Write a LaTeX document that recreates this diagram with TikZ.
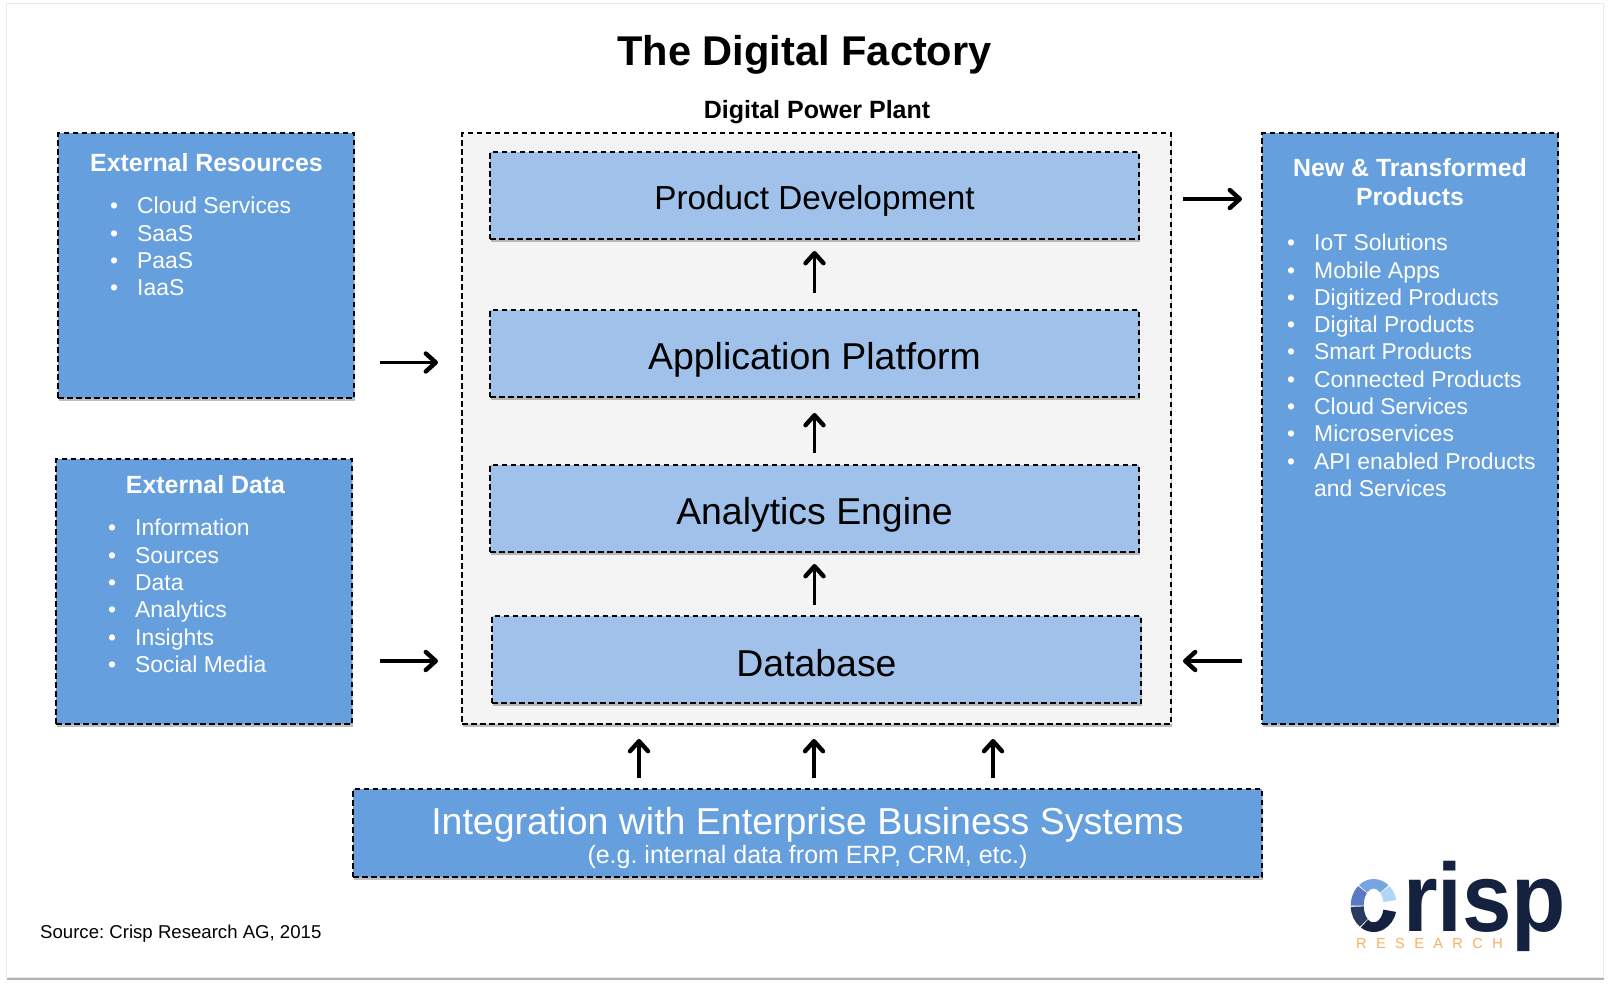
\documentclass[tikz,border=0pt]{standalone}
\usepackage{fontspec}
\setmainfont{Liberation Sans}
\usepackage{tikz}
\usetikzlibrary{arrows.meta}
\usetikzlibrary{shadows}
\definecolor{boxblue}{HTML}{659FDD}
\definecolor{layerblue}{HTML}{9FC1EA}
\definecolor{plantgray}{HTML}{F4F4F4}
\definecolor{crispnavy}{HTML}{14213F}
\definecolor{crispslate}{HTML}{2A3A5E}
\definecolor{crispmid}{HTML}{5A7BC2}
\definecolor{crispsky}{HTML}{76A5E0}
\definecolor{crisppale}{HTML}{B0D5F5}
\definecolor{crisporange}{HTML}{F9AE62}
\frenchspacing
\newcommand{\listitem}[1]{\makebox[27pt][l]{\textbullet}#1}
\tikzset{
  dashbox/.style={draw=black,line width=1.15pt,dash pattern=on 5.5pt off 3.5pt,anchor=north west,inner sep=0pt,outer sep=0pt,drop shadow={shadow xshift=1pt,shadow yshift=-2.5pt,opacity=0.25,fill=black}},
  outerbox/.style={dashbox,fill=boxblue},
  layerbox/.style={dashbox,fill=layerblue,minimum width=649pt,minimum height=87pt,text depth=0pt,text height=32pt,font=\fontsize{37.4}{40}\selectfont},
  headtext/.style={text=white,align=center,font=\fontsize{24.9}{29}\selectfont\bfseries},
  listtext/.style={text=white,align=left,anchor=north west,inner sep=0pt,font=\fontsize{22.9}{27.3}\selectfont},
  flowarrow/.style={line width=3.8pt,-{Straight Barb[round,length=10pt,width=18pt,line width=4.4pt]}}
}
\begin{document}
\begin{tikzpicture}[x=1pt,y=-1pt]
    \useasboundingbox (0,0) rectangle (1610,988);
    % Sheet
    \node[draw=black!8,fill=white,anchor=north west,inner sep=0pt,minimum width=1597pt,minimum height=974pt,drop shadow={shadow xshift=0.5pt,shadow yshift=-2.5pt,opacity=0.3,fill=black}] (sheet) at (6,3) {};
    % Titles
    \node[font=\fontsize{41.6}{44}\selectfont\bfseries] (title) at (804.5,55) {The Digital Factory};
    \node[font=\fontsize{25}{28}\selectfont\bfseries] (plantname) at (817,112) {Digital Power Plant};
    % Power plant
    \node[dashbox,fill=plantgray,minimum width=709pt,minimum height=591pt] (plant) at (462,133) {};
    \node[layerbox,text height=27pt,font=\fontsize{33.3}{36}\selectfont] (prodbox) at (490,152) {Product Development};
    \node[layerbox] (appbox) at (490,310) {Application Platform};
    \node[layerbox] (enginebox) at (490,465) {Analytics Engine};
    \node[layerbox,text height=34pt] (dbbox) at (492,616) {Database};
    % External Resources
    \node[outerbox,minimum width=296pt,minimum height=265pt] (extres) at (58,133) {};
    \node[headtext] (extreshead) at (206.5,163) {External Resources};
    \node[listtext] (extreslist) at (110,197) {\listitem{Cloud Services}\\\listitem{SaaS}\\\listitem{PaaS}\\\listitem{IaaS}};
    % External Data
    \node[outerbox,minimum width=296pt,minimum height=265pt] (extdata) at (56,459) {};
    \node[headtext] (extdatahead) at (205.5,485) {External Data};
    \node[listtext] (extdatalist) at (108,519) {\listitem{Information}\\\listitem{Sources}\\\listitem{Data}\\\listitem{Analytics}\\\listitem{Insights}\\\listitem{Social Media}};
    % New products
    \node[outerbox,minimum width=296pt,minimum height=591pt] (newprod) at (1262,133) {};
    \node[headtext] (newprodhead) at (1410,182) {New \& Transformed\\Products};
    \node[listtext] (newprodlist) at (1287,234) {\listitem{IoT Solutions}\\\listitem{Mobile Apps}\\\listitem{Digitized Products}\\\listitem{Digital Products}\\\listitem{Smart Products}\\\listitem{Connected Products}\\\listitem{Cloud Services}\\\listitem{Microservices}\\\listitem{API enabled Products}\\\hspace*{27pt}and Services};
    % Integration
    \node[outerbox,minimum width=909pt,minimum height=88pt] (intbox) at (353,789) {};
    \node[text=white,align=center] (inttext) at (807.5,838) {\fontsize{37.5}{38}\selectfont Integration with Enterprise Business Systems\\[3pt]\fontsize{25}{30}\selectfont (e.g. internal data from ERP, CRM, etc.)};
    % Source
    \node[anchor=west,inner sep=0pt,font=\fontsize{18.6}{22}\selectfont] (source) at (40,934) {Source: Crisp Research AG, 2015};
    % Arrows
    \coordinate (resrow) at (0,362.5);
    \coordinate (prodrow) at (0,199);
    \coordinate (dbrow) at (0,661);
    \draw[flowarrow,shorten <=26pt,shorten >=24pt] (extres.east |- resrow) to (plant.west |- resrow);
    \draw[flowarrow,shorten <=28pt,shorten >=24pt] (extdata.east |- dbrow) to (plant.west |- dbrow);
    \draw[flowarrow,shorten <=12pt,shorten >=20pt] (plant.east |- prodrow) to (newprod.west |- prodrow);
    \draw[flowarrow,shorten <=20pt,shorten >=12pt] (newprod.west |- dbrow) to (plant.east |- dbrow);
    \draw[flowarrow,shorten <=17pt,shorten >=12pt] (appbox.north) to (prodbox.south);
    \draw[flowarrow,shorten <=12pt,shorten >=16pt] (enginebox.north) to (appbox.south);
    \draw[flowarrow,shorten <=11pt,shorten >=12pt] (dbbox.north -| enginebox) to (enginebox.south);
    \foreach \col in {639,814,993}
      \draw[flowarrow,shorten <=11pt,shorten >=15pt] (\col,789) to (\col,724);
    % Logo
    \begin{scope}[shift={(1373.7,905.5)},y=1pt]
      \foreach \from/\upto/\tone in {12/47/crisppale,50/130/crispsky,133/180/crispmid,183/233/crispslate,236/346/crispnavy}
        \fill[\tone] (\from:23 and 26.5) arc[start angle=\from,end angle=\upto,x radius=23,y radius=26.5] -- (\upto:10 and 17) arc[start angle=\upto,end angle=\from,x radius=10,y radius=17] -- cycle;
    \end{scope}
    \node[anchor=base west,inner sep=0pt,xscale=0.917,text=crispnavy,font=\fontsize{97}{100}\selectfont\bfseries] (logo) at (1403,931.5) {risp};
    \node[anchor=base west,inner sep=0pt,text=crisporange,font=\fontsize{14.5}{16}\selectfont\addfontfeature{LetterSpace=65}] (logosub) at (1356,948) {RESEARCH};
\end{tikzpicture}
\end{document}
